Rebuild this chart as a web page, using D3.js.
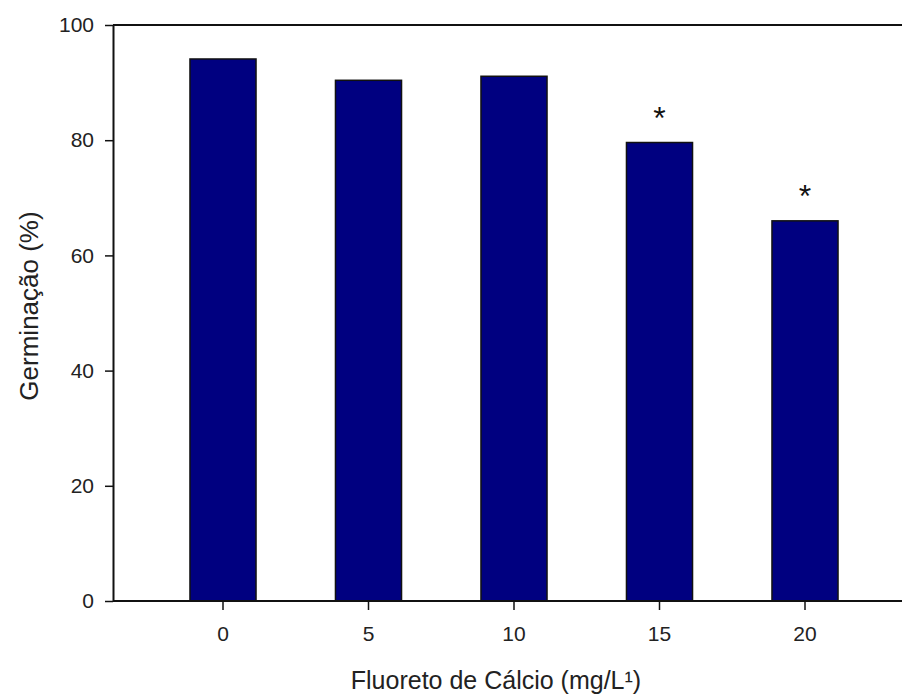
<!DOCTYPE html>
<html>
<head>
<meta charset="utf-8">
<script src="https://cdn.jsdelivr.net/npm/d3@7"></script>
<style>
  body { margin: 0; background: #fff; }
  svg { display: block; font-family: "Liberation Sans", Arial, sans-serif; }
</style>
</head>
<body>
<svg id="chart" width="902" height="695"></svg>
<script>
const categories = ["0", "5", "10", "15", "20"];
const germination = [94.1, 90.4, 91.1, 79.6, 66.0];
const significant = [false, false, false, true, true];
const yTicks = [0, 20, 40, 60, 80, 100];

const svg = d3.select("#chart");
const plotLeft = 113, plotRight = 902, plotTop = 25, plotBottom = 601;
const font = "Liberation Sans, Arial, sans-serif";

const y = d3.scaleLinear().domain([0, 100]).range([plotBottom, plotTop]);
const x = d3.scaleBand().domain(categories)
  .range([150.25, 877.75]).paddingInner(0.546).paddingOuter(0.273);

// bars
svg.selectAll("rect.bar").data(germination).join("rect")
  .attr("class", "bar")
  .attr("x", (d, i) => x(categories[i]))
  .attr("width", x.bandwidth())
  .attr("y", d => y(d))
  .attr("height", d => y(0) - y(d))
  .attr("fill", "#000080")
  .attr("stroke", "#111")
  .attr("stroke-width", 1.5);

// asterisks
svg.selectAll("text.star").data(germination.map((d, i) => ({ d, i })).filter(o => significant[o.i]))
  .join("text")
  .attr("class", "star")
  .attr("x", o => x(categories[o.i]) + x.bandwidth() / 2)
  .attr("y", o => y(o.d) - 14)
  .attr("text-anchor", "middle")
  .attr("font-size", 32)
  .attr("font-family", font)
  .attr("fill", "#111")
  .text("*");

// frame lines (top and bottom extend to right edge)
svg.append("line").attr("x1", plotLeft).attr("x2", plotRight).attr("y1", plotTop).attr("y2", plotTop)
  .attr("stroke", "#111").attr("stroke-width", 2);
svg.append("line").attr("x1", plotLeft).attr("x2", plotRight).attr("y1", plotBottom).attr("y2", plotBottom)
  .attr("stroke", "#111").attr("stroke-width", 2);

// y axis
const yAxis = d3.axisLeft(y).tickValues(yTicks).tickSize(8).tickPadding(11).tickSizeOuter(0);
const gy = svg.append("g").attr("transform", `translate(${plotLeft},0)`).call(yAxis);
gy.select(".domain").attr("stroke", "#111").attr("stroke-width", 2);
gy.selectAll(".tick line").attr("stroke", "#111").attr("stroke-width", 1.5);
gy.selectAll(".tick text").attr("font-size", 21).attr("fill", "#222")
  .attr("font-family", font);

// x axis
const xAxis = d3.axisBottom(x).tickSize(9).tickPadding(16).tickSizeOuter(0);
const gx = svg.append("g").attr("transform", `translate(0,${plotBottom})`).call(xAxis);
gx.select(".domain").remove();
gx.selectAll(".tick line").attr("stroke", "#111").attr("stroke-width", 1.5);
gx.selectAll(".tick text").attr("font-size", 21).attr("fill", "#222")
  .attr("font-family", font);

// axis titles
svg.append("text")
  .attr("x", 496).attr("y", 689)
  .attr("text-anchor", "middle")
  .attr("font-size", 25).attr("fill", "#222")
  .attr("font-family", font)
  .text("Fluoreto de Cálcio (mg/L¹)");

svg.append("text")
  .attr("transform", "translate(38,306) rotate(-90)")
  .attr("text-anchor", "middle")
  .attr("font-size", 26).attr("fill", "#222")
  .attr("font-family", font)
  .text("Germinação (%)");
</script>
</body>
</html>
